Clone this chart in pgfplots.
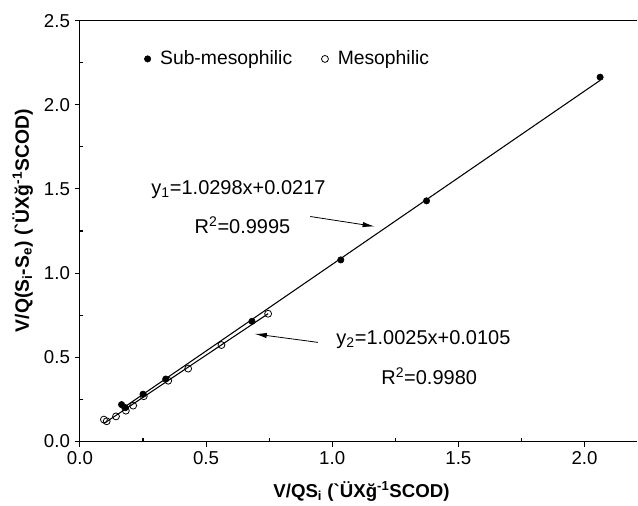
\documentclass[border=0pt]{standalone}
\usepackage{pgfplots}
\pgfplotsset{compat=1.18}
\usepackage{fontspec}
\setmainfont{Liberation Sans}[Ligatures=TeXOff]
\usetikzlibrary{arrows.meta}
\begin{document}
\begin{tikzpicture}
\begin{axis}[
  scale only axis, width=418.5pt, height=315.75pt,
  xmin=0, xmax=2.21, ymin=0, ymax=2.5,
  axis x line*=bottom, axis y line*=left,
  axis line style={line width=0.8pt, -},
  xtick={0,0.5,1.0,1.5,2.0}, ytick={0,0.5,1.0,1.5,2.0,2.5},
  minor tick num=1,
  tick align=outside, major tick length=4pt, minor tick length=-2.5pt,
  tick style={line width=0.8pt, black},
  /pgf/number format/assume math mode=true,
  /pgf/number format/.cd, fixed, fixed zerofill, precision=1, /pgfplots/.cd,
  tick label style={font=\fontsize{14}{16}\selectfont},
  xlabel={V/QS\textsubscript{i} (`ÜXğ\textsuperscript{-1}SCOD)},
  ylabel={V/Q(S\textsubscript{i}-S\textsubscript{e}) (`ÜXğ\textsuperscript{-1}SCOD)},
  every axis x label/.style={at={(axis description cs:0.505,0)}, yshift=-37.5pt, anchor=center, font=\fontsize{14}{16}\selectfont\bfseries},
  every axis y label/.style={at={(axis description cs:0,0.524)}, xshift=-43pt, rotate=90, anchor=center, font=\fontsize{14.5}{16}\selectfont\bfseries},
  legend style={draw=none, fill=none, at={(axis description cs:0.108,0.909)}, anchor=west,
    font=\fontsize{14.5}{18}\selectfont, legend columns=2,
    /tikz/every odd column/.append style={column sep=5pt},
    /tikz/every even column/.append style={column sep=20pt}},
  clip=false,
]
% fitted lines
\addplot[black, line width=0.8pt, forget plot] coordinates {(0.165,0.1916) (2.062,2.1451)};
\addplot[black, line width=0.8pt, forget plot] coordinates {(0.095,0.1057) (0.746,0.7584)};
% Sub-mesophilic
\addplot[only marks, mark=*, mark size=2.4pt, black] coordinates {
 (0.165,0.218) (0.18,0.20) (0.25,0.28) (0.34,0.37) (0.682,0.713) (1.034,1.078) (1.374,1.429) (2.062,2.164)};
\addlegendentry{Sub-mesophilic}
% Mesophilic
\addplot[only marks, mark=o, mark size=2.6pt, black, mark options={line width=0.6pt}] coordinates {
 (0.095,0.129) (0.106,0.119) (0.143,0.148) (0.182,0.182) (0.211,0.212) (0.253,0.268) (0.35,0.36) (0.429,0.432) (0.561,0.572) (0.746,0.758)};
\addlegendentry{Mesophilic}
\draw[line width=0.8pt] (rel axis cs:0,1) -- (rel axis cs:1,1);
\node[anchor=west, font=\fontsize{15}{18}\selectfont] at (axis cs:0.265,1.495) {y\textsubscript{1}=1.0298x+0.0217};
\node[anchor=west, font=\fontsize{15}{18}\selectfont] at (axis cs:0.436,1.287) {R\textsuperscript{2}=0.9995};
\draw[line width=0.6pt, -{Latex[length=9pt,width=4pt]}] (axis cs:0.913,1.336) -- (axis cs:1.168,1.277);
\node[anchor=west, font=\fontsize{15}{18}\selectfont] at (axis cs:0.998,0.604) {y\textsubscript{2}=1.0025x+0.0105};
\node[anchor=west, font=\fontsize{15}{18}\selectfont] at (axis cs:1.176,0.384) {R\textsuperscript{2}=0.9980};
\draw[line width=0.6pt, -{Latex[length=9pt,width=4pt]}] (axis cs:0.943,0.588) -- (axis cs:0.693,0.638);
\path (rel axis cs:0,0) ++(-60pt,-45.75pt) (rel axis cs:1,1) ++(0pt,15.5pt);
\end{axis}
\end{tikzpicture}
\end{document}
